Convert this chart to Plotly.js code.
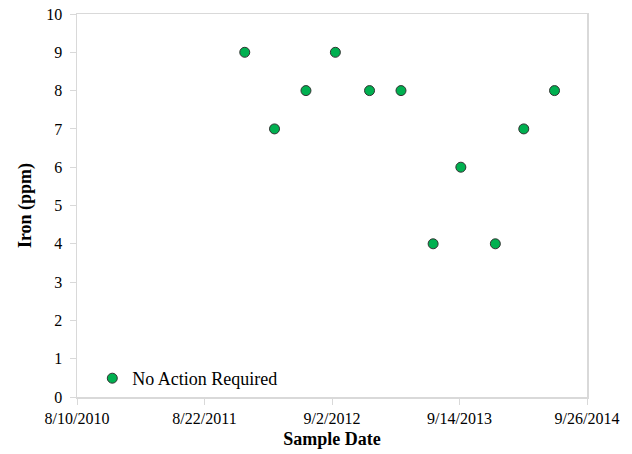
<!DOCTYPE html>
<html>
<head>
<meta charset="utf-8">
<script src="https://cdn.plot.ly/plotly-3.0.1.min.js"></script>
<style>html,body{margin:0;padding:0;background:#fff}#chart{width:632px;height:454px}</style>
</head>
<body>
<div id="chart"></div>
<script>
const sampleDates = ['2011-12-19','2012-03-16','2012-06-17','2012-09-12','2012-12-22','2013-03-25','2013-06-28','2013-09-18','2013-12-29','2014-03-23','2014-06-22'];
const ironPpm = [9,7,8,9,8,8,4,6,4,7,8];
const seriesName = 'No Action Required';
const xTitle = 'Sample Date';
const yTitle = 'Iron (ppm)';

const fam = '"Liberation Serif", "Times New Roman", serif';
const font = {family: fam, size: 16, color: '#000'};
const bigFont = {family: fam, size: 18, color: '#000'};
const DAY = 86400000;

Plotly.newPlot('chart', [{
  x: sampleDates, y: ironPpm, type: 'scatter', mode: 'markers', name: seriesName,
  marker: {color: '#00B050', size: 10, line: {color: '#333', width: 1}}
}], {
  width: 632, height: 454,
  margin: {l: 77, r: 45, t: 14, b: 57},
  paper_bgcolor: '#fff', plot_bgcolor: '#fff',
  font: font,
  showlegend: true,
  legend: {x: 0.03, y: 0.0, xanchor: 'left', yanchor: 'bottom', bgcolor: 'rgba(0,0,0,0)', font: bigFont, itemwidth: 30},
  xaxis: {
    type: 'date', range: ['2010-08-10', '2014-09-26'], tick0: '2010-08-10', dtick: 377 * DAY,
    tickformat: '%-m/%-d/%Y', showgrid: false, zeroline: false,
    showline: true, linecolor: '#d9d9d9', linewidth: 1.5, mirror: true,
    ticks: 'outside', ticklen: 6, tickcolor: '#d9d9d9', tickwidth: 1,
    tickfont: font,
    title: {text: '<b>' + xTitle + '</b>', font: bigFont, standoff: 6}
  },
  yaxis: {
    range: [0, 10], dtick: 1, showgrid: false, zeroline: false,
    showline: true, linecolor: '#d9d9d9', linewidth: 1.5, mirror: true,
    ticks: 'outside', ticklen: 6, tickcolor: '#d9d9d9', tickwidth: 1,
    ticklabelstandoff: 4,
    tickfont: font,
    title: {text: '<b>' + yTitle + '</b>', font: bigFont, standoff: 10}
  }
}, {staticPlot: true});
</script>
</body>
</html>
